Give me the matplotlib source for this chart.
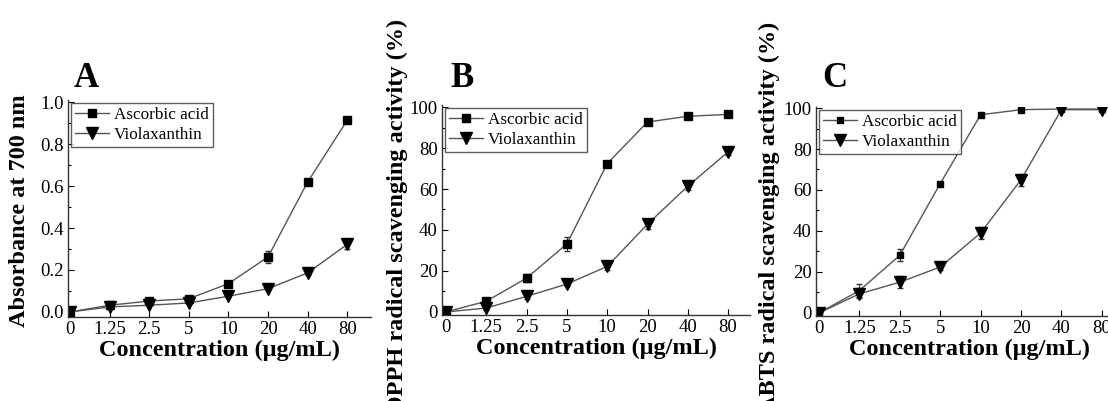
import numpy as np
import matplotlib
matplotlib.use('Agg')
import matplotlib.pyplot as plt
from matplotlib.ticker import AutoMinorLocator

plt.rcParams['font.family'] = 'Liberation Serif'

conc = ['0', '1.25', '2.5', '5', '10', '20', '40', '80']

# panel A: reducing power
a_asc = [0.0, 0.032, 0.052, 0.063, 0.135, 0.262, 0.619, 0.913]
a_asc_err = [0.005, 0.006, 0.006, 0.006, 0.008, 0.03, 0.01, 0.012]
a_vio = [0.0, 0.024, 0.032, 0.043, 0.075, 0.111, 0.186, 0.322]
a_vio_err = [0.004, 0.004, 0.005, 0.005, 0.006, 0.008, 0.01, 0.022]

# panel B: DPPH
b_asc = [0.0, 5.2, 16.5, 33.2, 72.4, 92.7, 95.5, 96.4]
b_asc_err = [0.5, 1.0, 2.0, 3.5, 1.5, 1.0, 0.8, 0.8]
b_vio = [0.0, 1.9, 7.6, 13.6, 22.2, 42.8, 61.4, 78.1]
b_vio_err = [0.5, 1.0, 1.5, 1.0, 1.5, 2.5, 2.0, 1.5]

# panel C: ABTS
c_asc = [0.0, 10.9, 28.1, 63.1, 96.7, 99.2, 99.5, 99.5]
c_asc_err = [0.5, 3.0, 3.0, 1.0, 0.8, 0.5, 0.5, 0.5]
c_vio = [0.0, 9.3, 15.0, 22.4, 39.0, 65.0, 99.2, 99.2]
c_vio_err = [0.5, 2.0, 3.0, 1.5, 3.0, 3.0, 0.8, 0.8]

W, H = 1108, 401
fig = plt.figure(figsize=(W / 100, H / 100), dpi=100)


def make_axes(x0, x_step, xmin, xmax, y_bottom, y_top_px):
    # pixel geometry -> figure coords
    left = x0 + xmin * x_step
    width = (xmax - xmin) * x_step
    ax = fig.add_axes([left / W, (H - y_bottom) / H, width / W, (y_bottom - y_top_px) / H])
    ax.set_xlim(xmin, xmax)
    return ax


def draw(ax, asc, asc_err, vio, vio_err, ylim, yticks, yfmt, ylabel, letter, sq=6, tri=8):
    x = np.arange(len(conc))
    for y, e in [(asc, asc_err), (vio, vio_err)]:
        ax.errorbar(x, y, yerr=e, fmt='none', ecolor='#333333', elinewidth=0.8, capsize=2)
    ax.plot(x, asc, color='#555555', lw=1, marker='s', ms=sq, mfc='black', mec='black',
            label='Ascorbic acid')
    ax.plot(x, vio, color='#555555', lw=1, marker='v', ms=tri, mfc='black', mec='black',
            label='Violaxanthin')
    ax.set_ylim(*ylim)
    ax.set_yticks(yticks)
    ax.set_yticklabels([yfmt.format(v) for v in yticks])
    ax.yaxis.set_minor_locator(AutoMinorLocator(2))
    ax.set_xticks(x)
    ax.set_xticklabels(conc)
    for s in ['top', 'right']:
        ax.spines[s].set_visible(False)
    for s in ['left', 'bottom']:
        ax.spines[s].set_color('#333333')
        ax.spines[s].set_linewidth(1)
    ax.tick_params(direction='in', labelsize=13.5, length=4, width=0.8, pad=3)
    ax.tick_params(which='minor', direction='in', length=2, width=0.8)
    ax.set_xlabel('Concentration (μg/mL)', fontsize=17.5, fontweight='bold', labelpad=1)
    ax.set_ylabel(ylabel, fontsize=17.5, fontweight='bold')
    leg = ax.legend(loc='upper left', bbox_to_anchor=(0.0, 1.0), fontsize=12.3, frameon=True,
                    fancybox=False, edgecolor='#333333', borderpad=0.25, handlelength=2.0,
                    labelspacing=0.25, handletextpad=0.3, borderaxespad=0.15)
    leg.get_frame().set_linewidth(1)
    return ax


axA = make_axes(70, 39.6, -0.05, 7.6, 317, 100)
draw(axA, a_asc, a_asc_err, a_vio, a_vio_err, (-0.024, 1.01),
     [0.0, 0.2, 0.4, 0.6, 0.8, 1.0], '{:.1f}', 'Absorbance at 700 nm', 'A')
axA.yaxis.set_label_coords(-0.125, 0.49)
axA.text(0.017, 1.06, 'A', transform=axA.transAxes, fontsize=25, fontweight='bold',
         va='baseline', ha='left')

axB = make_axes(446, 40.3, -0.1, 7.55, 315, 105)
draw(axB, b_asc, b_asc_err, b_vio, b_vio_err, (-1.5, 101),
     [0, 20, 40, 60, 80, 100], '{:d}', 'DPPH radical scavenging activity (%)', 'B')
axB.yaxis.set_label_coords(-0.11, 0.47)
axB.text(0.026, 1.086, 'B', transform=axB.transAxes, fontsize=25, fontweight='bold',
         va='baseline', ha='left')

axC = make_axes(819, 40.4, -0.075, 7.55, 316, 107)
draw(axC, c_asc, c_asc_err, c_vio, c_vio_err, (-1.5, 100.5),
     [0, 20, 40, 60, 80, 100], '{:d}', 'ABTS radical scavenging activity (%)', 'C',
     sq=5, tri=8)
axC.yaxis.set_label_coords(-0.117, 0.47)
axC.text(0.02, 1.096, 'C', transform=axC.transAxes, fontsize=25, fontweight='bold',
         va='baseline', ha='left')

fig.savefig('out.png', dpi=100, facecolor='white')
